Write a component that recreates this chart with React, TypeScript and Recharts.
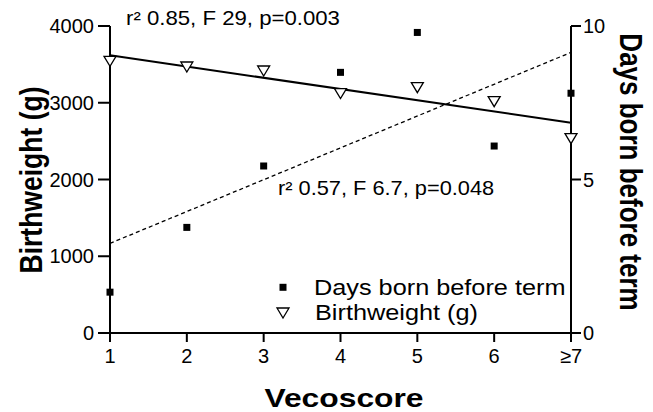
import React from "react";
import { ComposedChart, Scatter, XAxis, YAxis } from "recharts";

// Vecoscore categories (7 = "7 or more")
const categories = [1, 2, 3, 4, 5, 6, 7];
const xTickLabels = ["1", "2", "3", "4", "5", "6", "≥7"];

// mean values
const daysBeforeTerm = [1.33, 3.44, 5.44, 8.49, 9.79, 6.09, 7.81];
const birthweight = [3540, 3466, 3414, 3120, 3196, 3014, 2532];

// regression line end points
const fitX = [1, 7];
const birthweightFit = [3618, 2740];
const daysFit = [2.92, 9.14];

const leftTicks = [0, 1000, 2000, 3000, 4000];
const rightTicks = [0, 5, 10];

const daysPoints = categories.map((x, i) => ({ x, y: daysBeforeTerm[i] }));
const weightPoints = categories.map((x, i) => ({ x, y: birthweight[i] }));
const weightFitPoints = fitX.map((x, i) => ({ x, y: birthweightFit[i] }));
const daysFitPoints = fitX.map((x, i) => ({ x, y: daysFit[i] }));

const Square = (p: any) => (
  <rect x={p.cx - 3.5} y={p.cy - 3.5} width={7} height={7} fill="#000" />
);

const Triangle = (p: any) => (
  <polygon
    points={`${p.cx - 6},${p.cy - 5} ${p.cx + 6},${p.cy - 5} ${p.cx},${p.cy + 5}`}
    fill="#fff"
    stroke="#000"
    strokeWidth={1.3}
  />
);

const NoDot = () => <g />;

const axisStroke = { stroke: "#000", strokeWidth: 2 };
const tickFont = { fontSize: 20, fill: "#000" };

export default function App() {
  return (
    <div
      style={{
        position: "absolute",
        left: 0,
        top: 0,
        width: 653,
        height: 412,
        background: "#fff",
        fontFamily: "Arial, 'Liberation Sans', sans-serif",
      }}
    >
      <ComposedChart
        width={653}
        height={412}
        margin={{ top: 26, right: 0, bottom: 0, left: 0 }}
      >
        <XAxis
          dataKey="x"
          type="number"
          domain={[1, 7]}
          ticks={categories}
          interval={0}
          tickFormatter={(v) => xTickLabels[categories.indexOf(v)]}
          height={79}
          tickSize={9}
          tickMargin={7}
          axisLine={axisStroke}
          tickLine={axisStroke}
          tick={tickFont}
          fontSize={20}
        />
        <YAxis
          yAxisId="bw"
          dataKey="y"
          type="number"
          domain={[0, 4000]}
          ticks={leftTicks}
          interval={0}
          width={110}
          tickSize={12}
          tickMargin={4}
          axisLine={axisStroke}
          tickLine={axisStroke}
          tick={tickFont}
          fontSize={20}
        />
        <YAxis
          yAxisId="days"
          dataKey="y"
          type="number"
          orientation="right"
          domain={[0, 10]}
          ticks={rightTicks}
          interval={0}
          width={82}
          tickSize={10}
          tickMargin={2}
          axisLine={axisStroke}
          tickLine={axisStroke}
          tick={tickFont}
          fontSize={20}
        />
        <Scatter
          yAxisId="bw"
          data={weightFitPoints}
          line={{ stroke: "#000", strokeWidth: 2 }}
          shape={NoDot}
          isAnimationActive={false}
        />
        <Scatter
          yAxisId="days"
          data={daysFitPoints}
          line={{ stroke: "#000", strokeWidth: 1.3, strokeDasharray: "4 3" }}
          shape={NoDot}
          isAnimationActive={false}
        />
        <Scatter
          yAxisId="days"
          data={daysPoints}
          shape={Square}
          isAnimationActive={false}
        />
        <Scatter
          yAxisId="bw"
          data={weightPoints}
          shape={Triangle}
          isAnimationActive={false}
        />
      </ComposedChart>

      {/* titles, fit statistics and legend */}
      <svg
        width={653}
        height={412}
        style={{ position: "absolute", left: 0, top: 0, pointerEvents: "none" }}
      >
        <text transform="translate(126,25) scale(1.11,1)" fontSize={20}>
          r² 0.85, F 29, p=0.003
        </text>
        <text transform="translate(278,195) scale(1.09,1)" fontSize={20}>
          r² 0.57, F 6.7, p=0.048
        </text>

        <rect x={279.5} y={283.8} width={7} height={7} fill="#000" />
        <text transform="translate(314,295) scale(1.15,1)" fontSize={22}>
          Days born before term
        </text>
        <polygon
          points="277,308 289,308 283,318"
          fill="#fff"
          stroke="#000"
          strokeWidth={1.3}
        />
        <text transform="translate(315,320) scale(1.15,1)" fontSize={22}>
          Birthweight (g)
        </text>

        <text
          transform="translate(42,180) scale(1.2,1) rotate(-90)"
          textAnchor="middle"
          fontSize={26.5}
          fontWeight="bold"
        >
          Birthweight (g)
        </text>
        <text
          transform="translate(620,172) scale(1.2,1) rotate(90)"
          textAnchor="middle"
          fontSize={26}
          fontWeight="bold"
        >
          Days born before term
        </text>
        <text
          transform="translate(344,407) scale(1.2,1)"
          textAnchor="middle"
          fontSize={26.5}
          fontWeight="bold"
        >
          Vecoscore
        </text>
      </svg>
    </div>
  );
}
